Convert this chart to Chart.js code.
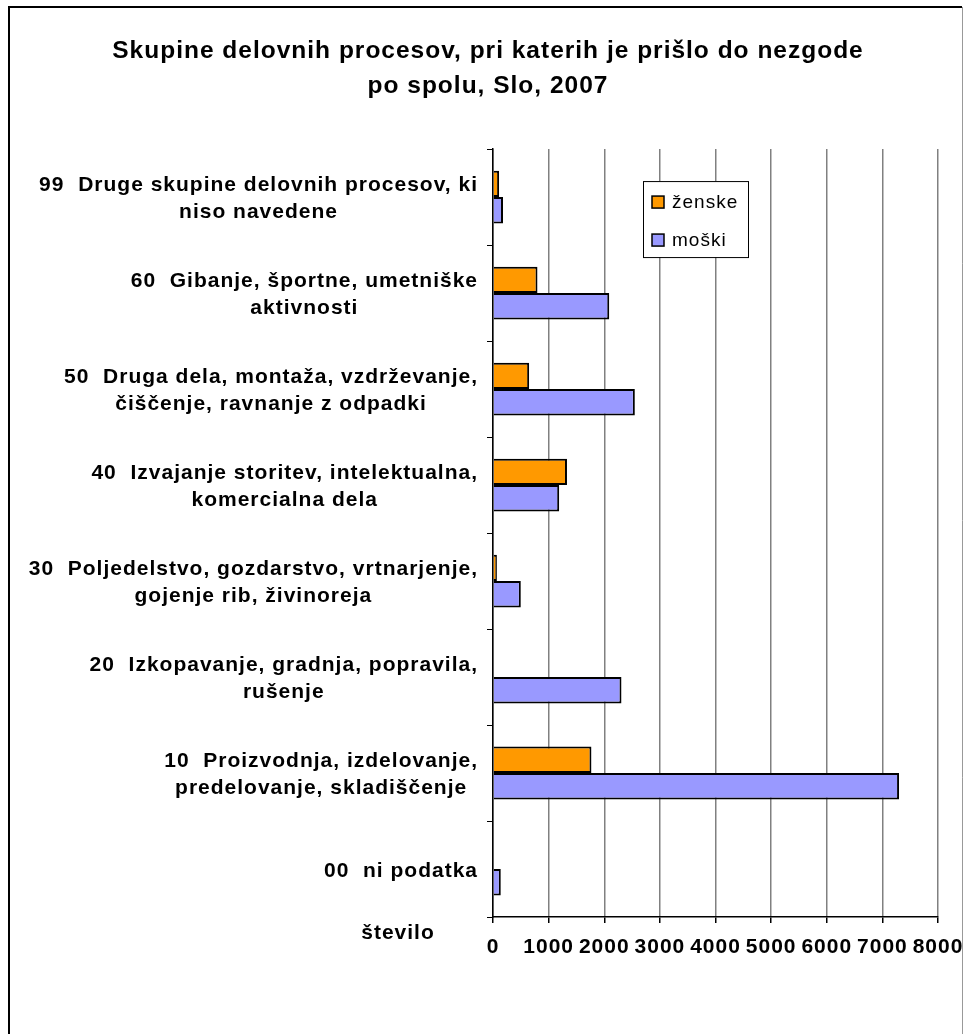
<!DOCTYPE html>
<html>
<head>
<meta charset="utf-8">
<script src="https://cdn.jsdelivr.net/npm/chart.js@4"></script>
<style>
  html, body { margin: 0; padding: 0; background: #fff; overflow: hidden; }
</style>
</head>
<body>
<canvas id="accidentsChart" width="963" height="1034"></canvas>
<script>
// Data
var categories = [
    ["99  Druge skupine delovnih procesov, ki", "niso navedene"],
    ["60  Gibanje, športne, umetniške", "aktivnosti"],
    ["50  Druga dela, montaža, vzdrževanje,", "čiščenje, ravnanje z odpadki"],
    ["40  Izvajanje storitev, intelektualna,", "komercialna dela"],
    ["30  Poljedelstvo, gozdarstvo, vrtnarjenje,", "gojenje rib, živinoreja"],
    ["20  Izkopavanje, gradnja, popravila,", "rušenje"],
    ["10  Proizvodnja, izdelovanje,", "predelovanje, skladiščenje"],
    ["00  ni podatka"]
];
var zenske = [110, 800, 650, 1330, 70, 0, 1770, 0];
var moski = [180, 2090, 2550, 1190, 500, 2310, 7300, 140];
var seriesNames = ["ženske", "moški"];
var xMin = 0, xMax = 8000, xStep = 1000;
var axisTitle = "število";

var FONT = "'Liberation Sans', Arial, sans-serif";

// frame + letter spacing like the original export
var framePlugin = {
    id: 'frame',
    beforeDraw: function (chart) {
        var ctx = chart.ctx;
        ctx.save();
        ctx.fillStyle = '#fff';
        ctx.fillRect(0, 0, chart.width, chart.height);
        ctx.strokeStyle = '#000';
        ctx.lineWidth = 2;
        ctx.beginPath();
        ctx.moveTo(9, 1034);
        ctx.lineTo(9, 7);
        ctx.lineTo(962, 7);
        ctx.stroke();
        ctx.strokeStyle = '#999';
        ctx.lineWidth = 1;
        ctx.beginPath();
        ctx.moveTo(962.5, 7);
        ctx.lineTo(962.5, 1034);
        ctx.stroke();
        ctx.restore();
        ctx.letterSpacing = '1px';
    }
};

// category labels: each block right aligned, lines centred inside it
var labelsPlugin = {
    id: 'catLabels',
    afterDraw: function (chart) {
        var ctx = chart.ctx;
        var yScale = chart.scales.y;
        var xScale = chart.scales.x;
        var area = chart.chartArea;
        ctx.save();
        ctx.letterSpacing = '1px';
        ctx.font = 'bold 21px ' + FONT;
        ctx.fillStyle = '#000';
        ctx.textAlign = 'center';
        ctx.textBaseline = 'middle';
        var lineH = 27;
        var right = area.left - 15;
        categories.forEach(function (lines, i) {
            var yc = yScale.getPixelForValue(i) + 2;
            var maxW = 0;
            lines.forEach(function (l) { maxW = Math.max(maxW, ctx.measureText(l).width); });
            var cx = right - maxW / 2;
            var y0 = yc - (lines.length - 1) * lineH / 2;
            lines.forEach(function (l, k) { ctx.fillText(l, cx, y0 + k * lineH); });
        });

        // axis title sits left of the value axis
        ctx.fillText(axisTitle, area.left - 95, xScale.top + 16);

        // legend box inside the plot
        var lx = area.left + 150, ly = area.top + 32, lw = 105, lh = 76;
        ctx.fillStyle = '#fff';
        ctx.fillRect(lx, ly, lw, lh);
        ctx.strokeStyle = '#000';
        ctx.lineWidth = 1;
        ctx.strokeRect(lx + 0.5, ly + 0.5, lw, lh);
        ctx.font = '19px ' + FONT;
        ctx.textAlign = 'left';
        chart.data.datasets.forEach(function (ds, k) {
            var sy = ly + 21 + k * 38;
            ctx.fillStyle = ds.backgroundColor;
            ctx.fillRect(lx + 9, sy - 6, 12, 12);
            ctx.lineWidth = 1.5;
            ctx.strokeRect(lx + 9, sy - 6, 12, 12);
            ctx.fillStyle = '#000';
            ctx.fillText(ds.label, lx + 29, sy + 1);
        });
        ctx.restore();
    }
};

document.addEventListener("DOMContentLoaded", function () {
    var myContext = document.getElementById("accidentsChart").getContext('2d');

    var myChart = new Chart(myContext, {
        type: 'bar',
        data: {
            labels: categories,
            datasets: [{
                label: seriesNames[0],
                backgroundColor: "#FF9900",
                borderColor: "#000",
                borderWidth: 2,
                data: zenske
            }, {
                label: seriesNames[1],
                backgroundColor: "#9999FF",
                borderColor: "#000",
                borderWidth: 2,
                data: moski
            }]
        },
        options: {
            indexAxis: 'y',
            responsive: false,
            animation: false,
            categoryPercentage: 0.55,
            barPercentage: 1.0,
            layout: { padding: { left: 38, right: 25, top: 0, bottom: 0 } },
            plugins: {
                legend: { display: false },
                tooltip: { enabled: false },
                title: {
                    display: true,
                    text: ["Skupine delovnih procesov, pri katerih je prišlo do nezgode", "po spolu, Slo, 2007"],
                    color: '#000',
                    font: { family: FONT, size: 24.5, weight: 'bold', lineHeight: 1.43 },
                    padding: { top: 34, bottom: 45 }
                }
            },
            scales: {
                x: {
                    type: 'linear',
                    min: xMin,
                    max: xMax,
                    ticks: {
                        stepSize: xStep,
                        color: '#000',
                        font: { family: FONT, size: 21, weight: 'bold' },
                        padding: 12,
                        maxRotation: 0,
                        autoSkip: false,
                        callback: function (v) { return String(v); }
                    },
                    grid: { color: '#808080', lineWidth: 1.5, tickColor: '#000', tickLength: 6 },
                    border: { color: '#000', width: 1.5 },
                    afterFit: function (s) { s.height = 117; s.paddingLeft = 0; s.paddingRight = 0; }
                },
                y: {
                    ticks: { display: false },
                    grid: { drawOnChartArea: false, color: '#000', tickLength: 6, offset: true },
                    border: { color: '#000', width: 1.5 },
                    afterFit: function (s) { s.width = 455; s.paddingTop = 0; s.paddingBottom = 0; }
                }
            }
        },
        plugins: [framePlugin, labelsPlugin]
    });
});
</script>
</body>
</html>
